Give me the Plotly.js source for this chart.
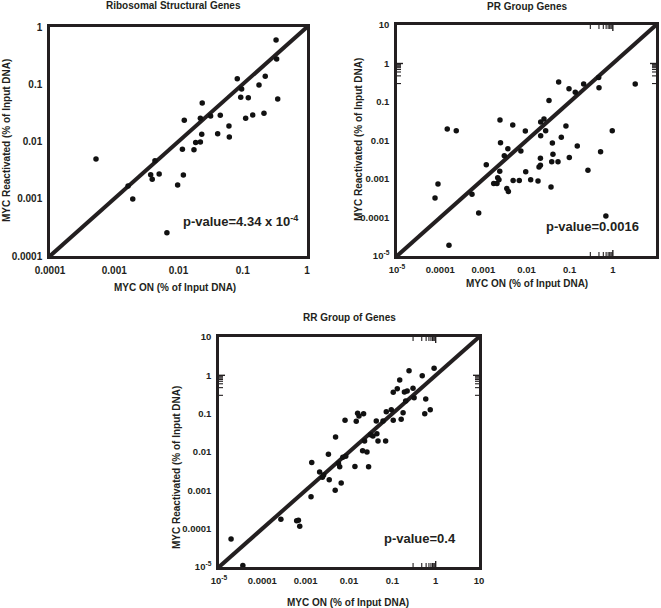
<!DOCTYPE html>
<html>
<head>
<meta charset="utf-8">
<script src="https://cdn.plot.ly/plotly-3.0.1.min.js"></script>
<style>html,body{margin:0;padding:0;background:#fff;}#chart{width:661px;height:608px;}</style>
</head>
<body>
<div id="chart"></div>
<script>
// ---- Data ----
// Ribosomal Structural Genes
const riboX = [0.00052, 0.00164, 0.00194, 0.00369, 0.0039, 0.005, 0.0043, 0.0066, 0.0097, 0.0115, 0.0119, 0.0123, 0.0174, 0.0185, 0.0219, 0.0219, 0.023, 0.0234, 0.0316, 0.0407, 0.0447, 0.061, 0.0618, 0.0822, 0.096, 0.093, 0.111, 0.122, 0.143, 0.179, 0.214, 0.224, 0.33, 0.337, 0.35];
const riboY = [0.00494, 0.00167, 0.00099, 0.00263, 0.00219, 0.0027, 0.0046, 0.000255, 0.00174, 0.0073, 0.0026, 0.0234, 0.0072, 0.0096, 0.0098, 0.0254, 0.0134, 0.047, 0.028, 0.0137, 0.0287, 0.0187, 0.012, 0.125, 0.0826, 0.059, 0.0254, 0.058, 0.029, 0.097, 0.031, 0.138, 0.59, 0.276, 0.055];
// PR Group Genes
const prX = [7.6e-5, 8.9e-5, 0.000146, 0.000236, 0.00016, 0.000546, 0.00078, 0.00117, 0.00174, 0.00207, 0.00215, 0.0023, 0.0024, 0.00243, 0.0025, 0.00306, 0.0035, 0.0038, 0.0037, 0.0048, 0.0049, 0.0068, 0.0074, 0.0094, 0.0096, 0.0125, 0.0185, 0.0195, 0.021, 0.021, 0.0213, 0.0213, 0.0254, 0.0278, 0.0332, 0.037, 0.0384, 0.0398, 0.041, 0.0537, 0.0556, 0.064, 0.082, 0.0965, 0.098, 0.135, 0.15, 0.211, 0.265, 0.47, 0.478, 0.52, 0.69, 0.97, 3.3];
const prY = [0.00032, 0.00074, 0.0199, 0.018, 1.9e-5, 0.0004, 0.00013, 0.00236, 0.00076, 0.00076, 0.00108, 0.00096, 0.0016, 0.034, 0.0088, 0.004, 0.00057, 0.00047, 0.0061, 0.0253, 0.00092, 0.00091, 0.0053, 0.0177, 0.00155, 0.00096, 0.00089, 0.00205, 0.00227, 0.00345, 0.0133, 0.0303, 0.036, 0.018, 0.11, 0.00062, 0.0028, 0.0086, 0.0044, 0.0028, 0.33, 0.0121, 0.0238, 0.221, 0.0036, 0.179, 0.0072, 0.294, 0.00168, 0.43, 0.235, 0.0051, 0.00011, 0.018, 0.294];
// RR Group of Genes
const rrX = [1.9e-5, 3.55e-5, 0.000268, 0.00062, 0.00068, 0.00073, 0.00133, 0.00138, 0.0021, 0.00243, 0.0026, 0.00335, 0.0035, 0.0048, 0.0049, 0.0057, 0.0061, 0.0066, 0.0072, 0.0084, 0.0081, 0.0137, 0.0147, 0.0158, 0.017, 0.0217, 0.0206, 0.026, 0.0229, 0.0283, 0.0315, 0.0357, 0.0426, 0.044, 0.0467, 0.061, 0.07, 0.0725, 0.0946, 0.105, 0.105, 0.13, 0.148, 0.16, 0.177, 0.19, 0.22, 0.203, 0.243, 0.3, 0.318, 0.49, 0.59, 0.56, 0.75, 0.92];
const rrY = [5.4e-5, 1.1e-5, 0.000175, 0.000161, 0.000165, 0.000115, 0.00068, 0.0053, 0.003, 0.0022, 0.0025, 0.0087, 0.0019, 0.001, 0.0247, 0.0051, 0.0041, 0.00156, 0.0073, 0.0077, 0.067, 0.0042, 0.063, 0.102, 0.087, 0.1, 0.0108, 0.01, 0.0194, 0.0041, 0.0283, 0.0262, 0.064, 0.03, 0.0194, 0.064, 0.0194, 0.113, 0.127, 0.067, 0.36, 0.45, 0.76, 0.071, 0.106, 0.37, 0.39, 0.214, 1.32, 0.46, 0.26, 0.98, 0.24, 0.1, 0.127, 1.53];
// identity lines (y = x) spanning each axis
const diagRibo = [0.0001, 1];
const diagWide = [0.00001, 10];
// tick values and labels
const tickValsRibo = [0.0001, 0.001, 0.01, 0.1, 1];
const tickTextRibo = ['0.0001', '0.001', '0.01', '0.1', '1'];
const tickValsWide = [0.00001, 0.0001, 0.001, 0.01, 0.1, 1, 10];
const tickTextWide = ['10<sup>-5</sup>', '0.0001', '0.001', '0.01', '0.1', '1', '10'];
const minorMultipliers = [2, 3, 4, 5, 6, 7, 8, 9];
// text
const titles = ['Ribosomal Structural Genes', 'PR Group Genes', 'RR Group of Genes'];
const xTitle = 'MYC ON (% of Input DNA)';
const yTitle = 'MYC Reactivated (% of Input DNA)';
const pValues = ['p-value=4.34 x 10<sup>-4</sup>', 'p-value=0.0016', 'p-value=0.4'];

// ---- Layout helpers ----
const W = 661, H = 608;
const px = v => v / W;
const py = v => 1 - v / H;
const INK = '#231f20';
const FONT = 'Liberation Sans, Arial, Helvetica, sans-serif';
const bold = s => '<b>' + s + '</b>';
const MAJOR_LEN = 6, MINOR_LEN = 4;

function axis(domain, range, vals, text, fsize) {
  return {
    type: 'log', domain: domain, range: range,
    tickmode: 'array', tickvals: vals, ticktext: text.map(bold),
    ticks: '', ticklabelstandoff: 3,
    showline: true, linewidth: 2.5, linecolor: INK, mirror: true,
    showgrid: false, zeroline: false,
    tickfont: {family: FONT, size: fsize, color: INK},
    fixedrange: true
  };
}

// inside tick marks on all four edges of a subplot, placed through the axes' own scales
// (shape coordinates on log axes are given in log10 units)
function tickMarks(xa, ya, decades, wPx, hPx) {
  const shapes = [];
  const line = w => ({color: INK, width: w});
  const add = (v, len, w) => {
    const lv = Math.log10(v);
    const fy = len / hPx, fx = len / wPx;
    shapes.push({type: 'line', xref: xa, yref: ya + ' domain', x0: lv, x1: lv, y0: 0, y1: fy, line: line(w), layer: 'above'});
    shapes.push({type: 'line', xref: xa, yref: ya + ' domain', x0: lv, x1: lv, y0: 1, y1: 1 - fy, line: line(w), layer: 'above'});
    shapes.push({type: 'line', xref: xa + ' domain', yref: ya, y0: lv, y1: lv, x0: 0, x1: fx, line: line(w), layer: 'above'});
    shapes.push({type: 'line', xref: xa + ' domain', yref: ya, y0: lv, y1: lv, x0: 1, x1: 1 - fx, line: line(w), layer: 'above'});
  };
  decades.forEach((d, i) => {
    add(d, MAJOR_LEN, 1.4);
    if (i < decades.length - 1) minorMultipliers.forEach(m => add(d * m, MINOR_LEN, 1.1));
  });
  return shapes;
}

const marker = {size: 5.5, color: '#111'};
const diagLine = {color: INK, width: 4};

const traces = [
  {x: diagRibo, y: diagRibo, mode: 'lines', line: diagLine, xaxis: 'x', yaxis: 'y', hoverinfo: 'skip'},
  {x: riboX, y: riboY, mode: 'markers', marker: marker, xaxis: 'x', yaxis: 'y'},
  {x: diagWide, y: diagWide, mode: 'lines', line: diagLine, xaxis: 'x2', yaxis: 'y2', hoverinfo: 'skip'},
  {x: prX, y: prY, mode: 'markers', marker: marker, xaxis: 'x2', yaxis: 'y2'},
  {x: diagWide, y: diagWide, mode: 'lines', line: diagLine, xaxis: 'x3', yaxis: 'y3', hoverinfo: 'skip'},
  {x: rrX, y: rrY, mode: 'markers', marker: marker, xaxis: 'x3', yaxis: 'y3'}
];

const titleFont = {family: FONT, size: 10, color: INK};
const pFont = {family: FONT, size: 13, color: INK};
function ann(text, x, y, font, extra) {
  return Object.assign({text: bold(text), x: px(x), y: py(y), xref: 'paper', yref: 'paper',
    showarrow: false, font: font, xanchor: 'center', yanchor: 'middle'}, extra || {});
}

const annotations = [
  ann(titles[0], 173, 5, titleFont),
  ann(titles[1], 527, 7, titleFont),
  ann(titles[2], 350, 317, titleFont),
  ann(xTitle, 175, 288, titleFont),
  ann(xTitle, 527, 283, titleFont),
  ann(xTitle, 348, 602, titleFont),
  ann(yTitle, 6, 141, titleFont, {textangle: -90}),
  ann(yTitle, 358, 140, titleFont, {textangle: -90}),
  ann(yTitle, 176, 468, titleFont, {textangle: -90}),
  ann(pValues[0], 181, 221, pFont, {xanchor: 'left'}),
  ann(pValues[1], 544, 226, pFont, {xanchor: 'left'}),
  ann(pValues[2], 382, 538, pFont, {xanchor: 'left'})
];

const shapes = [].concat(
  tickMarks('x', 'y', tickValsRibo, 257, 229),
  tickMarks('x2', 'y2', tickValsWide, 259, 231),
  tickMarks('x3', 'y3', tickValsWide, 260, 230)
);

const layout = {
  width: W, height: H,
  margin: {l: 0, r: 0, t: 0, b: 0},
  paper_bgcolor: '#fff', plot_bgcolor: '#fff',
  showlegend: false,
  xaxis: Object.assign(axis([px(50), px(307)], [-4, 0], tickValsRibo, tickTextRibo, 10), {anchor: 'y'}),
  yaxis: Object.assign(axis([py(256), py(27)], [-4, 0], tickValsRibo, tickTextRibo, 10), {anchor: 'x'}),
  xaxis2: Object.assign(axis([px(397), px(656)], [-5, 1], tickValsWide, tickTextWide, 9.5), {anchor: 'y2'}),
  yaxis2: Object.assign(axis([py(256), py(25)], [-5, 1], tickValsWide, tickTextWide, 9.5), {anchor: 'x2'}),
  xaxis3: Object.assign(axis([px(219), px(479)], [-5, 1], tickValsWide, tickTextWide, 9.5), {anchor: 'y3'}),
  yaxis3: Object.assign(axis([py(567), py(337)], [-5, 1], tickValsWide, tickTextWide, 9.5), {anchor: 'x3'}),
  shapes: shapes,
  annotations: annotations
};

Plotly.newPlot('chart', traces, layout, {displayModeBar: false});
</script>
</body>
</html>
